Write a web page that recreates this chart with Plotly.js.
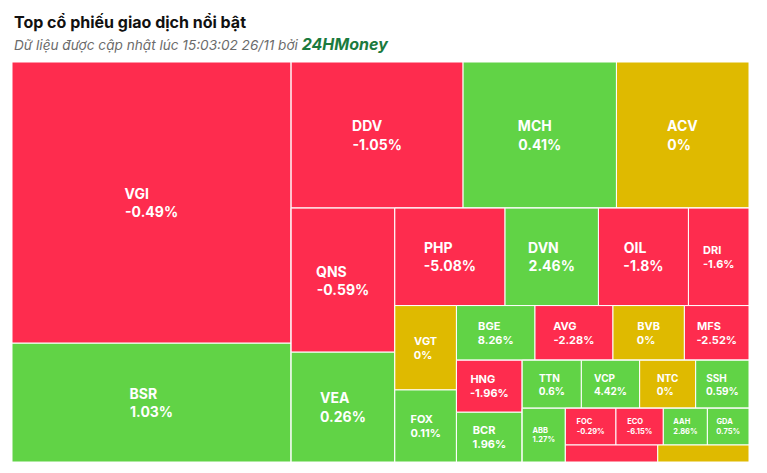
<!DOCTYPE html>
<html>
<head>
<meta charset="utf-8">
<script src="https://cdn.plot.ly/plotly-3.0.1.min.js"></script>
<style>
  html, body { margin: 0; padding: 0; background: #fff; }
  #chart { width: 767px; height: 473px; }
</style>
</head>
<body>
<div id="chart"></div>
<script>
// ---- Data ----
const tickers = ["VGI","BSR","DDV","MCH","ACV","QNS","VEA","PHP","DVN","OIL","DRI",
  "VGT","FOX","BGE","AVG","BVB","MFS","HNG","BCR","TTN","VCP","NTC","SSH",
  "ABB","FOC","ECO","AAH","GDA","",""];
const changes = [-0.49,1.03,-1.05,0.41,0,-0.59,0.26,-5.08,2.46,-1.8,-1.6,
  0,0.11,8.26,-2.28,0,-2.52,-1.96,1.96,0.6,4.42,0,0.59,
  1.27,-0.29,-6.15,2.86,0.75,-0.5,0];
const tradeValues = [7848,3315,2511,2240,1936,1493,1138,1074,910,877,590,
  520,444,429,426,390,353,342,327,284,280,269,256,
  232,186,174,162,153,157,155];
// layout grouping of the tiles (nested rows/columns)
const groupIds     = ["root","G1","R1","Row1","R2","Col2","R3","Row3","R4","Col4","R5","Row5","R6","Col6","R7","Row7","R8","Col8","R9","Row9","Row10"];
const groupParents = ["",    "root","root","R1","R1","R2","R2","R3","R3","R4","R4","R5","R5","R6","R6","R7","R7","R8","R8","R9","R9"];
const tickerGroup  = ["G1","G1","Row1","Row1","Row1","Col2","Col2","Row3","Row3","Row3","Row3",
  "Col4","Col4","Row5","Row5","Row5","Row5","Col6","Col6","Row7","Row7","Row7","Row7",
  "Col8","Row9","Row9","Row9","Row9","Row10","Row10"];
const labelSizes = [14,14,14,14,14,14,14,14,14,14,11,
  11,11,11,11,11,11,11,11,10,10,10,10,
  7.5,7.5,7.5,7.5,7.5,7.5,7.5];

const RED = "#FE2C4E", GREEN = "#61D346", YELLOW = "#DFBA00";
const FONT = "Inter, 'Noto Sans', sans-serif";

function fmtPct(v){ return v + "%"; }

// pad shorter line with non-breaking spaces so lines appear left-aligned
const cv = document.createElement("canvas").getContext("2d");
function w(str, size){ cv.font = "bold " + size + "px Inter"; return cv.measureText(str).width; }
function padLines(a, b, size){
  const wa = w(a,size), wb = w(b,size), nb = w("\u00A0",size) || size*0.28;
  if (wa < wb) a = a + "\u00A0".repeat(Math.round((wb-wa)/nb));
  else if (wb < wa) b = b + "\u00A0".repeat(Math.round((wa-wb)/nb));
  return [a,b];
}

const ids = [], labels = [], parents = [], values = [], colors = [], texts = [], sizes = [];
groupIds.forEach((g,i)=>{
  ids.push(g); labels.push(""); parents.push(groupParents[i]); values.push(0);
  colors.push("#ffffff"); texts.push(""); sizes.push(10);
});
tickers.forEach((t,i)=>{
  ids.push("t"+i); labels.push(t); parents.push(tickerGroup[i]); values.push(tradeValues[i]);
  const c = changes[i];
  colors.push(c > 0 ? GREEN : (c < 0 ? RED : YELLOW));
  if (t) {
    const [l1,l2] = padLines(t, fmtPct(c), labelSizes[i]);
    texts.push("<b>" + l1 + "<br>" + l2 + "</b>");
  } else texts.push("");
  sizes.push(labelSizes[i]);
});

const trace = {
  type: "treemap",
  ids: ids, labels: labels, parents: parents, values: values,
  branchvalues: "remainder",
  sort: false,
  text: texts,
  textinfo: "text",
  textposition: "middle center",
  textfont: { family: FONT, color: "#ffffff", size: sizes },
  marker: {
    colors: colors,
    line: { color: "#ffffff", width: 1 },
    pad: { t: 0, l: 0, r: 0, b: 0 },
    depthfade: false
  },
  leaf: { opacity: 1 },
  tiling: { packing: "slice-dice", pad: 0 },
  pathbar: { visible: false },
  hoverinfo: "label+text"
};

const layout = {
  width: 767, height: 473,
  margin: { l: 12, r: 18, t: 62, b: 11 },
  paper_bgcolor: "#ffffff",
  font: { family: FONT },
  showlegend: false,
  annotations: [
    { xref: "paper", yref: "paper", x: 0, y: 1.1, xanchor: "left", yanchor: "middle",
      showarrow: false, text: "<b>Top cổ phiếu giao dịch nổi bật</b>",
      font: { family: FONT, size: 16, color: "#111111" } },
    { xref: "paper", yref: "paper", x: 0, y: 1.045, xanchor: "left", yanchor: "middle",
      showarrow: false,
      text: "<i>Dữ liệu được cập nhật lúc 15:03:02 26/11 bởi </i><b><i><span style='color:#1B7A3E;font-size:16px'>24HMoney</span></i></b>",
      font: { family: FONT, size: 13.6, color: "#6b6b6b" } }
  ]
};

Plotly.newPlot("chart", [trace], layout, { displayModeBar: false, staticPlot: true });
</script>
</body>
</html>
